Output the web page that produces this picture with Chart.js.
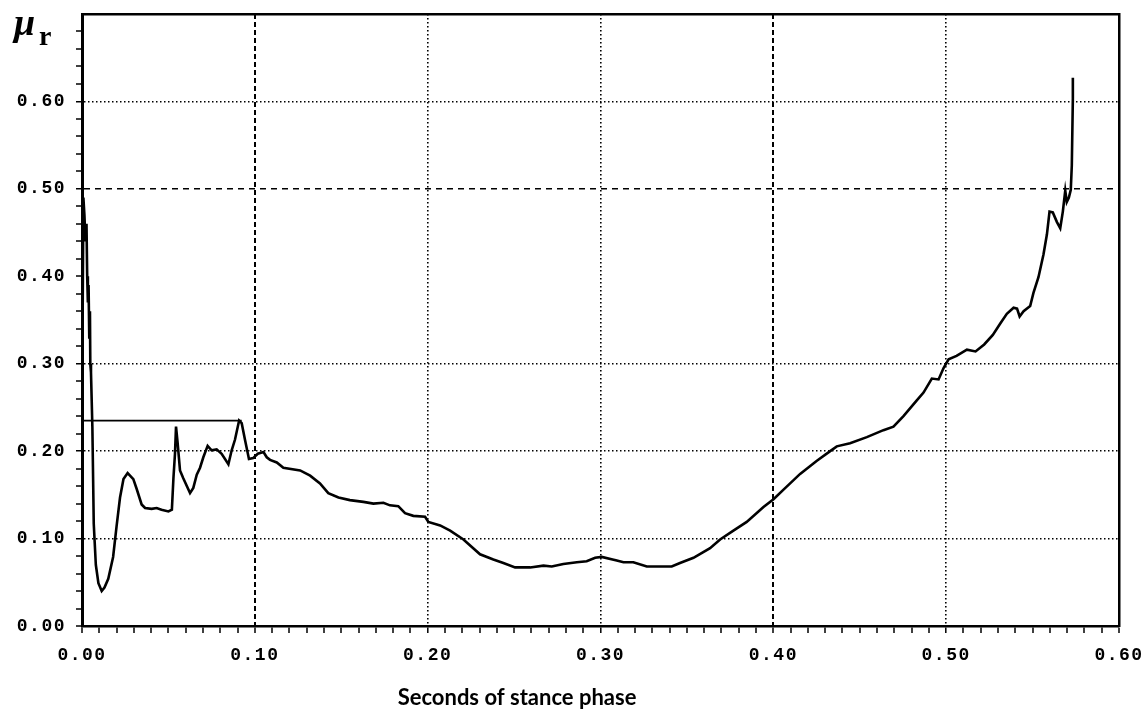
<!DOCTYPE html>
<html><head><meta charset="utf-8">
<script src="https://cdn.jsdelivr.net/npm/chart.js@4.4.1/dist/chart.umd.min.js"></script>
<style>html,body{margin:0;padding:0;background:#fff;}#wrap{width:1146px;height:712px;}</style>
</head><body><div id="wrap"><canvas id="c" width="1146" height="712"></canvas></div>
<script>
// ---- data ----
const timeSeconds = [
0.0000,0.0008,0.0014,0.0020,0.0026,0.0030,0.0034,0.0038,0.0042,0.0046,0.0048,0.0052,0.0060,0.0068,0.0080,0.0095,0.0114,0.0130,0.0152,0.0180,
0.0200,0.0220,0.0240,0.0264,0.0297,0.0316,0.0345,0.0365,0.0403,0.0432,0.0460,0.0500,0.0520,0.0529,0.0538,0.0544,0.0553,0.0567,0.0586,0.0625,
0.0644,0.0664,0.0683,0.0702,0.0727,0.0750,0.0779,0.0808,0.0847,0.0866,0.0885,0.0909,0.0924,0.0943,0.0966,0.0990,0.1017,0.1050,0.1069,0.1088,
0.1127,0.1165,0.1262,0.1320,0.1377,0.1425,0.1484,0.1550,0.1628,0.1686,0.1744,0.1782,0.1830,0.1869,0.1917,0.1985,0.2004,0.2072,0.2130,0.2207,
0.2303,0.2380,0.2438,0.2506,0.2593,0.2670,0.2718,0.2785,0.2863,0.2920,0.2969,0.3007,0.3094,0.3133,0.3190,0.3268,0.3345,0.3412,0.3460,0.3538,
0.3634,0.3692,0.3769,0.3846,0.3943,0.4001,0.4059,0.4155,0.4252,0.4329,0.4367,0.4444,0.4541,0.4637,0.4695,0.4753,0.4830,0.4869,0.4917,0.4956,
0.4985,0.5014,0.5060,0.5120,0.5170,0.5220,0.5270,0.5313,0.5351,0.5390,0.5410,0.5425,0.5448,0.5486,0.5505,0.5534,0.5563,0.5583,0.5598,0.5617,
0.5641,0.5660,0.5675,0.5689,0.5698,0.5710,0.5721,0.5727,0.5733,0.5733];
const frictionMu = [
0.235,0.490,0.470,0.440,0.460,0.400,0.370,0.390,0.330,0.360,0.300,0.290,0.228,0.117,0.070,0.049,0.040,0.044,0.054,0.079,
0.114,0.147,0.168,0.175,0.168,0.157,0.139,0.135,0.134,0.135,0.133,0.131,0.133,0.169,0.197,0.228,0.210,0.178,0.169,0.152,
0.158,0.173,0.181,0.193,0.206,0.201,0.202,0.197,0.185,0.201,0.213,0.235,0.232,0.213,0.191,0.192,0.197,0.199,0.193,0.190,
0.187,0.181,0.178,0.172,0.163,0.152,0.147,0.144,0.142,0.140,0.141,0.138,0.137,0.129,0.126,0.125,0.119,0.115,0.109,0.099,
0.082,0.076,0.072,0.067,0.067,0.069,0.068,0.071,0.073,0.074,0.078,0.079,0.075,0.073,0.073,0.068,0.068,0.068,0.072,0.078,
0.089,0.099,0.109,0.119,0.136,0.145,0.156,0.174,0.189,0.200,0.2055,0.209,0.216,0.224,0.228,0.240,0.258,0.267,0.283,0.282,
0.295,0.305,0.309,0.316,0.314,0.322,0.333,0.346,0.357,0.364,0.363,0.354,0.360,0.366,0.381,0.399,0.425,0.448,0.474,0.473,
0.462,0.455,0.474,0.498,0.485,0.490,0.499,0.527,0.603,0.627];
const flatLineX = [0.0, 0.0924];
const flatLineY = [0.235, 0.235];
const xTickLabels = ['0.00','0.10','0.20','0.30','0.40','0.50','0.60'];
const yTickLabels = ['0.00','0.10','0.20','0.30','0.40','0.50','0.60'];
const xAxisTitle = 'Seconds of stance phase';
const yAxisSymbol = 'μ';
const yAxisSubscript = 'r';

// ---- chart ----
const mainData = timeSeconds.map((t, i) => ({x: t, y: frictionMu[i]}));
const flatData = flatLineX.map((t, i) => ({x: t, y: flatLineY[i]}));

function xGridStyle(v) {
  const k = Math.round(v * 100);
  if (k === 10 || k === 40) return {w: 2, dash: [5, 3]};
  if (k === 20 || k === 30 || k === 50) return {w: 1.6, dash: [1.5, 2.5]};
  return null;
}
function yGridStyle(v) {
  const k = Math.round(v * 100);
  if (k === 50) return {w: 1.5, dash: [6, 5]};
  if (k === 10 || k === 20 || k === 30 || k === 60) return {w: 1.5, dash: [1.5, 2.5]};
  return null;
}
function zeroPad(s) { s.paddingTop = 0; s.paddingBottom = 0; s.paddingLeft = 0; s.paddingRight = 0; }

const textPlugin = {
  id: 'textPlugin',
  beforeUpdate(chart) { chart.ctx.letterSpacing = '0px'; },
  afterDatasetsDraw(chart) { chart.ctx.letterSpacing = '1.5px'; },
  afterDraw(chart) {
    const ctx = chart.ctx, a = chart.chartArea;
    ctx.save();
    ctx.letterSpacing = '0px';
    ctx.fillStyle = '#000';
    ctx.font = 'bold 22px Lato';
    ctx.textAlign = 'center';
    ctx.textBaseline = 'alphabetic';
    ctx.fillText(xAxisTitle, a.left + 0.4195 * (a.right - a.left), 705);
    ctx.textAlign = 'left';
    ctx.font = 'italic bold 38px "Liberation Serif"';
    ctx.fillText(yAxisSymbol, 14, 35);
    ctx.font = 'bold 28px "Liberation Serif"';
    ctx.fillText(yAxisSubscript, 39, 45);
    ctx.restore();
  }
};

const tickFont = {family: '"Liberation Mono", monospace', size: 18, weight: 'bold'};

new Chart(document.getElementById('c'), {
  type: 'scatter',
  data: {
    datasets: [
      {data: mainData, showLine: true, borderColor: '#000', borderWidth: 2.6, pointRadius: 0, tension: 0, fill: false},
      {data: flatData, showLine: true, borderColor: '#000', borderWidth: 1.8, pointRadius: 0, tension: 0, fill: false}
    ]
  },
  options: {
    responsive: false,
    animation: false,
    devicePixelRatio: 1,
    layout: {padding: {left: 0, right: 27, top: 14, bottom: 0}},
    plugins: {legend: {display: false}, tooltip: {enabled: false}},
    scales: {
      x: {
        type: 'linear', position: 'bottom', min: 0, max: 0.6,
        afterBuildTicks: s => { s.ticks = Array.from({length: 61}, (_, i) => ({value: i / 100})); },
        afterFit: s => { s.height = 86; zeroPad(s); },
        ticks: {
          autoSkip: false, maxRotation: 0, padding: 12, color: '#000', font: tickFont, z: 1,
          callback: v => { const k = Math.round(v * 100); return k % 10 === 0 ? xTickLabels[k / 10] : ''; }
        },
        grid: {
          drawOnChartArea: true, drawTicks: true, tickLength: 7,
          color: c => xGridStyle(c.tick.value) ? '#000' : 'rgba(0,0,0,0)',
          lineWidth: c => { const s = xGridStyle(c.tick.value); return s ? s.w : 0; },
          tickColor: '#000', tickWidth: 1.5
        },
        border: {display: true, color: '#000', width: 2.5,
          dash: c => { const s = c.tick ? xGridStyle(c.tick.value) : null; return s ? s.dash : []; }}
      },
      y: {
        type: 'linear', position: 'left', min: 0, max: 0.7,
        afterBuildTicks: s => { s.ticks = Array.from({length: 35}, (_, i) => ({value: i * 0.02})); },
        afterFit: s => { s.width = 82; zeroPad(s); },
        ticks: {
          autoSkip: false, padding: 10, color: '#000', font: tickFont, z: 1,
          callback: v => { const k = Math.round(v * 100); return (k % 10 === 0 && k <= 60) ? yTickLabels[k / 10] : ''; }
        },
        grid: {
          drawOnChartArea: true, drawTicks: true, tickLength: 6,
          color: c => yGridStyle(c.tick.value) ? '#000' : 'rgba(0,0,0,0)',
          lineWidth: c => { const s = yGridStyle(c.tick.value); return s ? s.w : 0; },
          tickColor: '#000', tickWidth: 1.5
        },
        border: {display: true, color: '#000', width: 3,
          dash: c => { const s = c.tick ? yGridStyle(c.tick.value) : null; return s ? s.dash : []; }}
      },
      xTop: {
        type: 'linear', position: 'top', min: 0, max: 0.6,
        afterFit: s => { s.height = 0; zeroPad(s); },
        ticks: {display: false}, grid: {display: false, drawOnChartArea: false, drawTicks: false},
        border: {display: true, color: '#000', width: 2.5}
      },
      yRight: {
        type: 'linear', position: 'right', min: 0, max: 0.7,
        afterFit: s => { s.width = 0; zeroPad(s); },
        ticks: {display: false}, grid: {display: false, drawOnChartArea: false, drawTicks: false},
        border: {display: true, color: '#000', width: 2.5}
      }
    }
  },
  plugins: [textPlugin]
});
</script>
</body></html>
